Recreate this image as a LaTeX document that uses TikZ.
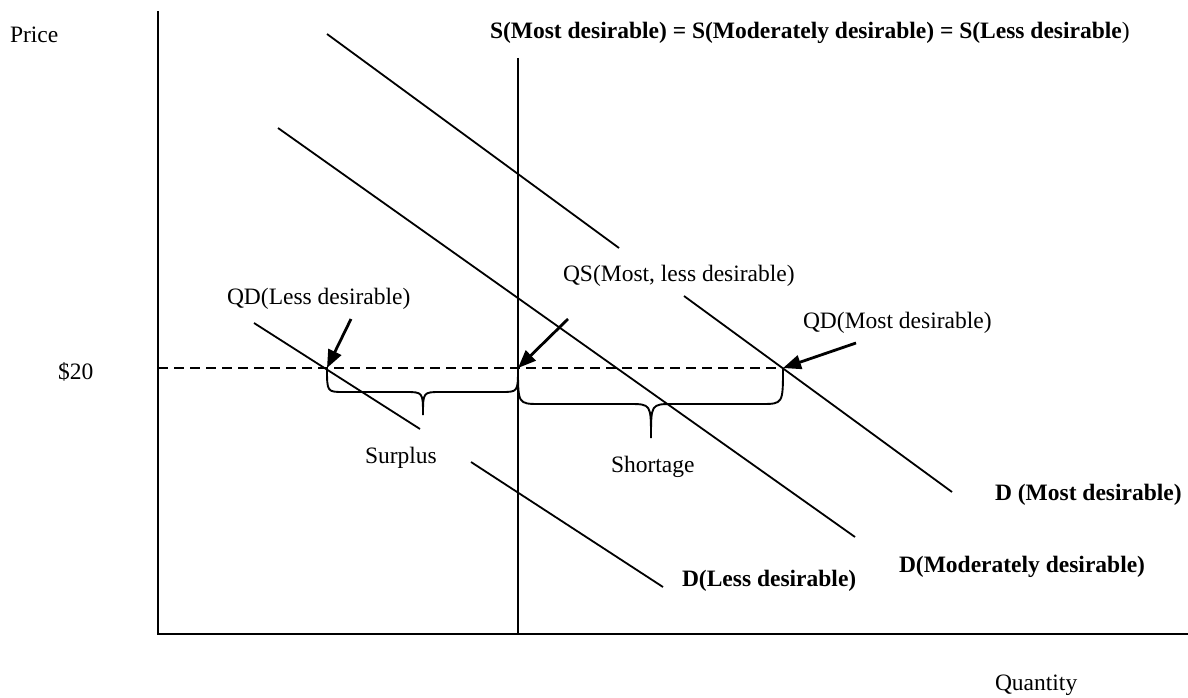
\documentclass[tikz,border=0pt]{standalone}
\usepackage{fontspec}
\setmainfont{Liberation Serif}
\usetikzlibrary{arrows.meta}
\begin{document}
\begin{tikzpicture}[x=1pt,y=-1pt,
  every node/.style={inner sep=0pt,outer sep=0pt,font=\fontsize{23.5}{28}\selectfont},
  lbl/.style={anchor=base west},
  curve/.style={line width=1.8pt},
  axis/.style={line width=2.6pt},
  pointer/.style={line width=2.8pt,-{Triangle[length=18pt,width=14pt]}},
  brace/.style={line width=1.9pt},
  price/.style={line width=1.8pt,dash pattern=on 10pt off 6pt}]
\useasboundingbox (0,0) rectangle (1188,698);

% key points
\coordinate (yTop) at (158,11);
\coordinate (origin) at (158,634);
\coordinate (xEnd) at (1047,634);
\coordinate (xFar) at (1188,634);
\coordinate (sTop) at (518,58);
\coordinate (sBot) at (518,634);
\coordinate (pLeft) at (158,368);
\coordinate (qdLess) at (327,368);
\coordinate (qs) at (518,368);
\coordinate (qdMost) at (783,368);

% axes
\draw[axis] (yTop) -- (origin) -- (xEnd);
\draw[line width=1.2pt] (xEnd) -- (xFar);

% supply
\draw[line width=2.2pt] (sTop) -- (sBot);

% demand curves
\coordinate (dm1) at (327,34);  \coordinate (dm2) at (619,248);
\coordinate (dm3) at (684,296); \coordinate (dm4) at (952,492);
\draw[curve] (dm1) -- (dm2);
\draw[curve] (dm3) -- (dm4);
\coordinate (dmod1) at (278,128); \coordinate (dmod2) at (855,537);
\draw[curve] (dmod1) -- (dmod2);
\coordinate (dl1) at (254,323); \coordinate (dl2) at (420,429);
\coordinate (dl3) at (471,462); \coordinate (dl4) at (663,587);
\draw[curve] (dl1) -- (dl2);
\draw[curve] (dl3) -- (dl4);

% price line
\draw[price] (pLeft) -- (qdMost);

% braces
\draw[brace] (qdLess) .. controls (327,392) .. (344,392) -- (405,392)
  .. controls (423,392) .. (423,415) .. controls (423,392) .. (441,392)
  -- (501,392) .. controls (518,392) .. (qs);
\draw[brace] (qs) .. controls (518,404) .. (540,404) -- (629,404)
  .. controls (651,404) .. (651,438) .. controls (651,404) .. (673,404)
  -- (761,404) .. controls (783,404) .. (qdMost);

% pointers
\coordinate (aLess) at (351,319);
\coordinate (aQS) at (568,319);
\coordinate (aMost) at (856,343);
\draw[pointer] (aLess) -- (qdLess);
\draw[pointer] (aQS) -- (qs);
\draw[pointer] (aMost) -- (qdMost);

% labels
\node[lbl] (price) at (10,43) {Price};
\node[lbl] (p20) at (58,379) {\$20};
\node[lbl] (quantity) at (995,690) {Quantity};
\node[lbl] (heading) at (490,39) {\textbf{S(Most desirable) = S(Moderately desirable) = S(Less desirable})};
\node[lbl] (lqdl) at (227,304) {QD(Less desirable)};
\node[lbl] (lqs) at (563,281) {QS(Most, less desirable)};
\node[lbl] (lqdm) at (803,328) {QD(Most desirable)};
\node[lbl] (surplus) at (365,463) {Surplus};
\node[lbl] (shortage) at (611,472) {Shortage};
\node[lbl,font=\fontsize{23.5}{28}\selectfont\bfseries] (ldm) at (995,500) {D (Most desirable)};
\node[lbl,font=\fontsize{23.5}{28}\selectfont\bfseries] (ldmod) at (899,572) {D(Moderately desirable)};
\node[lbl,font=\fontsize{23.5}{28}\selectfont\bfseries] (ldl) at (682,586) {D(Less desirable)};
\end{tikzpicture}
\end{document}
